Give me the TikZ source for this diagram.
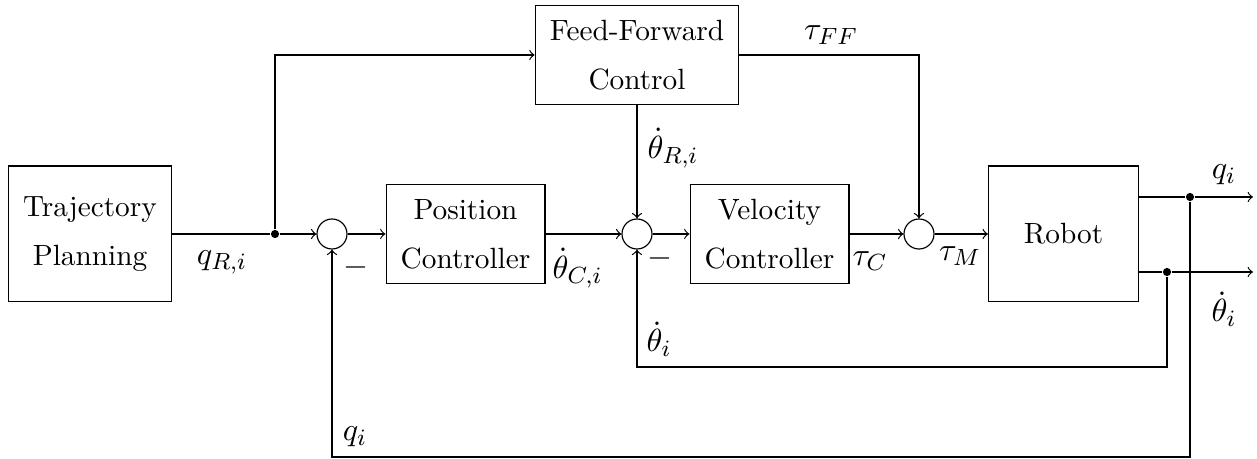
\documentclass[tikz,border=0pt]{standalone}
\usepackage{amsmath}

\begin{document}
\begin{tikzpicture}
  [>=to,
   block/.style={draw, rectangle, align=center, inner sep=5pt,
                 font=\linespread{1.4}\selectfont},
   bigblock/.style={block, minimum width=1.8cm, minimum height=1.63cm},
   sum/.style={draw, circle, inner sep=0pt, minimum size=0.36cm},
   dot/.style={fill, circle, inner sep=0pt, minimum size=2.8pt},
   signal/.style={font=\fontsize{11}{13}\selectfont}]
  \useasboundingbox (0,-2.7) rectangle (15.084,2.808);

  % blocks
  \node[bigblock] (traj)  at (1.08,0)    {Trajectory\\Planning};
  \node[block]    (pos)   at (5.586,0)   {Position\\Controller};
  \node[block]    (vel)   at (9.234,0)   {Velocity\\Controller};
  \node[block]    (ff)    at (7.644,2.148) {Feed-Forward\\Control};
  \node[bigblock] (robot) at (12.762,0)  {Robot};

  % summing points and branch dots
  \node[sum] (sum1) at (3.984,0) {};
  \node[sum] (sum2) at (7.644,0) {};
  \node[sum] (sum3) at (11.028,0) {};
  \node[dot] (jn)   at (3.30,0) {};
  \node[dot] (qdot) at (14.28,0.444) {};
  \node[dot] (tdot) at (14.004,-0.456) {};
  \coordinate (qend)  at (15.036,0.444);
  \coordinate (tend)  at (15.036,-0.456);
  \coordinate (tloop) at (14.004,-1.596);
  \coordinate (qloop) at (14.28,-2.676);

  % forward path
  \draw (traj) -- (jn);
  \draw[->] (jn) -- (sum1);
  \draw[->] (sum1) -- (pos);
  \draw[->] (pos) -- (sum2);
  \draw[->] (sum2) -- (vel);
  \draw[->] (vel) -- (sum3);
  \draw[->] (sum3) -- (robot);
  \draw[->] (jn) |- (ff);
  \draw[->] (ff) -- (sum2);
  \draw[->] (ff) -| (sum3);

  % outputs and feedback
  \draw (robot.east |- qdot) -- (qdot);
  \draw[->] (qdot) -- (qend);
  \draw (robot.east |- tdot) -- (tdot);
  \draw[->] (tdot) -- (tend);
  \draw[->] (tdot) -- (tloop) -| (sum2);
  \draw[->] (qdot) -- (qloop) -| (sum1);

  % signal labels
  \node[signal] (lqr)  at (2.664,-0.336) {$q_{R,i}$};
  \node[signal] (m1)   at (4.272,-0.396) {$-$};
  \node[signal] (ltc)  at (6.93,-0.408)  {$\dot{\theta}_{C,i}$};
  \node[signal] (ltr)  at (8.076,1.032)  {$\dot{\theta}_{R,i}$};
  \node[signal] (m2)   at (7.92,-0.288)  {$-$};
  \node[signal] (lc)   at (10.44,-0.324) {$\tau_C$};
  \node[signal] (lm)   at (11.52,-0.264) {$\tau_M$};
  \node[signal] (lff)  at (9.972,2.388)  {$\tau_{FF}$};
  \node[signal] (lq)   at (14.688,0.708) {$q_i$};
  \node[signal] (lt)   at (14.688,-0.9)  {$\dot{\theta}_i$};
  \node[signal] (ltl)  at (7.908,-1.26)  {$\dot{\theta}_i$};
  \node[signal] (lql)  at (4.26,-2.436)  {$q_i$};
\end{tikzpicture}
\end{document}
